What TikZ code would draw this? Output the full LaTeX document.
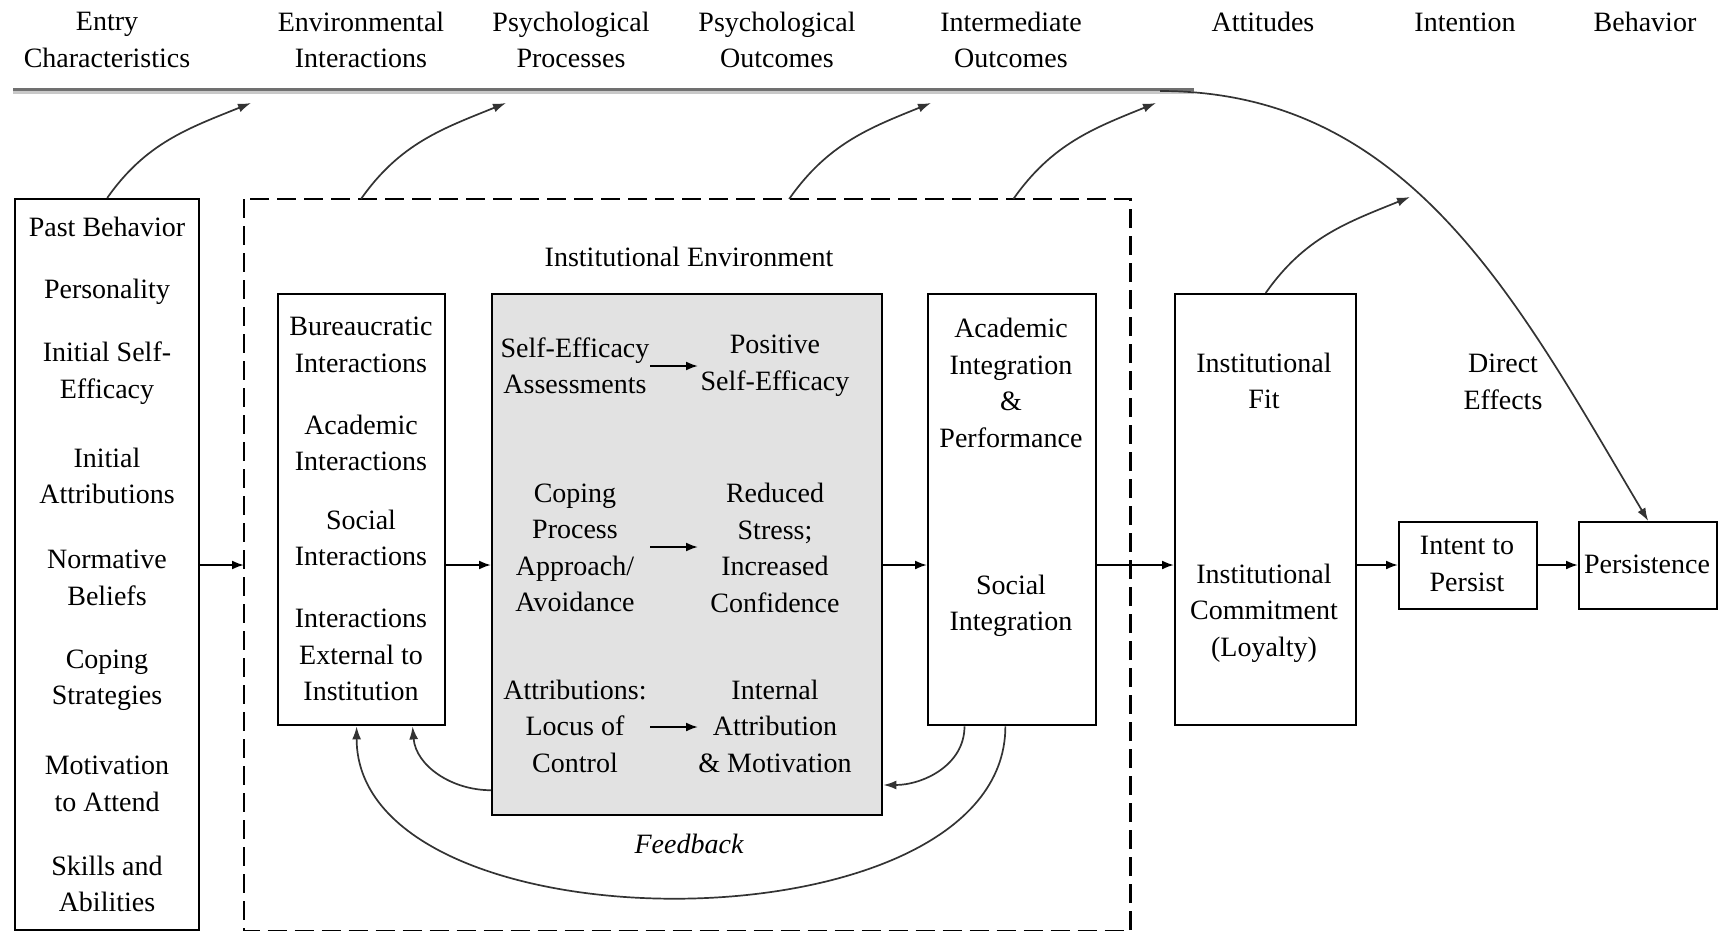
\documentclass[tikz,border=0pt]{standalone}
\usepackage{fontspec}
\setmainfont{Liberation Serif}
\usetikzlibrary{arrows.meta,calc}
\definecolor{boxgray}{HTML}{E2E2E2}
\definecolor{linedark}{HTML}{707070}
\definecolor{linelight}{HTML}{C8C8C8}
\begin{document}
\begin{tikzpicture}[x=1pt,y=1pt,
  every node/.style={font=\fontsize{28}{36.5}\selectfont, align=center, inner sep=0pt},
  box/.style={draw, line width=2.4pt, anchor=north west},
  conn/.style={line width=2pt, -{Latex[length=12pt,width=9pt]}},
  curv/.style={line width=1.7pt, black!80, -{Latex[length=13pt,width=9pt]}},
]
\useasboundingbox (0,0) rectangle (1725,-931);
% header labels
\node (hEntry) at (107,-40) {Entry\\Characteristics};
\node (hEnv) at (361,-40) {Environmental\\Interactions};
\node (hPP) at (571,-40) {Psychological\\Processes};
\node (hPO) at (777,-40) {Psychological\\Outcomes};
\node (hIO) at (1011,-40) {Intermediate\\Outcomes};
\node (hAtt) at (1263,-22) {Attitudes};
\node (hInt) at (1465,-22) {Intention};
\node (hBeh) at (1645,-22) {Behavior};
% boxes
\node[box, minimum width=184, minimum height=731] (entry) at (14,-198) {};
\node[box, draw=none, minimum width=884, minimum height=730] (inst) at (244,-199) {};
\draw[line width=2.4pt, dash pattern=on 19pt off 8pt] (inst.north west) rectangle (inst.south east);
\node[box, minimum width=167, minimum height=431] (ints) at (277,-293) {};
\node[box, fill=boxgray, minimum width=390, minimum height=521] (gray) at (491,-293) {};
\node[box, minimum width=168, minimum height=431] (acad) at (927,-293) {};
\node[box, minimum width=181, minimum height=431] (fit) at (1174,-293) {};
\node[box, minimum width=138, minimum height=87] (intent) at (1398,-521) {};
\node[box, minimum width=138, minimum height=87] (persist) at (1578,-521) {};
% entry texts
\node (e1) at (107,-227) {Past Behavior};
\node (e2) at (107,-292) {Personality};
\node (e3) at (107,-373) {Initial Self-\\Efficacy};
\node (e4) at (107,-476) {Initial\\Attributions};
\node (e5) at (107,-578) {Normative\\Beliefs};
\node (e6) at (107,-680) {Coping\\Strategies};
\node (e7) at (107,-784) {Motivation\\to Attend};
\node (e8) at (107,-884) {Skills and\\Abilities};
% institutional environment
\node (ielbl) at (689,-257) {Institutional Environment};
\node (i1) at (361,-345) {Bureaucratic\\Interactions};
\node (i2) at (361,-443) {Academic\\Interactions};
\node (i3) at (361,-538) {Social\\Interactions};
\node (i4) at (361,-655) {Interactions\\External to\\Institution};
% gray box
\node (g1l) at (575,-366) {Self-Efficacy\\Assessments};
\node (g1r) at (775,-366) {Positive\\Self-Efficacy};
\node (g2l) at (575,-548) {Coping\\Process\\Approach/\\Avoidance};
\node (g2r) at (775,-548) {Reduced\\Stress;\\Increased\\Confidence};
\node (g3l) at (575,-726) {Attributions:\\Locus of\\Control};
\node (g3r) at (775,-726) {Internal\\Attribution\\\& Motivation};
\coordinate (a1s) at (650,-366); \coordinate (a1e) at (698,-366);
\coordinate (a2s) at (650,-547); \coordinate (a2e) at (698,-547);
\coordinate (a3s) at (650,-727); \coordinate (a3e) at (698,-727);
\draw[conn] (a1s) -- (a1e);
\draw[conn] (a2s) -- (a2e);
\draw[conn] (a3s) -- (a3e);
% academic & fit
\node (ac1) at (1011,-383) {Academic\\Integration\\\&\\Performance};
\node (ac2) at (1011,-606) {Social\\Integration};
\node (f1) at (1264,-381) {Institutional\\Fit};
\node (f2) at (1264,-613) {Institutional\\Commitment\\(Loyalty)};
\node (it) at (1467,-564) {Intent to\\Persist};
\node (ps) at (1647,-564) {Persistence};
\node (de) at (1503,-382) {Direct\\Effects};
\node[font=\fontsize{28}{36.5}\selectfont\itshape] (fb) at (689,-844) {Feedback};
% main horizontal flow
\coordinate (mid) at (0,-565);
\draw[conn] (entry.east |- mid) -- (inst.west |- mid);
\draw[conn] (ints.east |- mid) -- (gray.west |- mid);
\draw[conn] (gray.east |- mid) -- (acad.west |- mid);
\draw[conn] (acad.east |- mid) -- (fit.west |- mid);
\draw[conn] (fit.east |- mid) -- (intent.west |- mid);
\draw[conn] (intent.east |- mid) -- (persist.west |- mid);
% top line and direct effects curve
\coordinate (lineL) at (13,-91.5);
\coordinate (lineR) at (1194,-91.5);
\draw[linedark, line width=3pt] ([yshift=1.5pt]lineL) -- ([yshift=1.5pt]lineR);
\draw[linelight, line width=2.6pt] ([yshift=-1.3pt]lineL) -- ([yshift=-1.3pt]lineR);
\coordinate (curveS) at (1160,-91);
\draw[curv] (curveS) .. controls (1410,-91) and (1518,-302) .. (persist.north);
% arrows to header
\coordinate (t1) at (251,-103);
\coordinate (t2) at (506,-103);
\coordinate (t3) at (931,-103);
\coordinate (t4) at (1156,-103);
\coordinate (t5) at (1410,-197);
\draw[curv] (entry.north) to[out=55,in=202] (t1);
\draw[curv] ($(inst.north west)!0.132!(inst.north east)$) to[out=55,in=202] (t2);
\draw[curv] ($(inst.north west)!0.615!(inst.north east)$) to[out=55,in=202] (t3);
\draw[curv] ($(inst.north west)!0.868!(inst.north east)$) to[out=55,in=202] (t4);
\draw[curv] (fit.north) to[out=55,in=202] (t5);
% feedback
\draw[curv] ($(gray.north west)!0.95!(gray.south west)$) to[out=180,in=-85] ($(ints.south west)!0.8!(ints.south east)$);
\draw[curv] ($(acad.south west)!0.46!(acad.south east)$) to[out=-90,in=-90,looseness=0.9] ($(ints.south west)!0.47!(ints.south east)$);
\draw[curv] ($(acad.south west)!0.22!(acad.south east)$) to[out=-90,in=0] ($(gray.north east)!0.94!(gray.south east)$);
\end{tikzpicture}
\end{document}
